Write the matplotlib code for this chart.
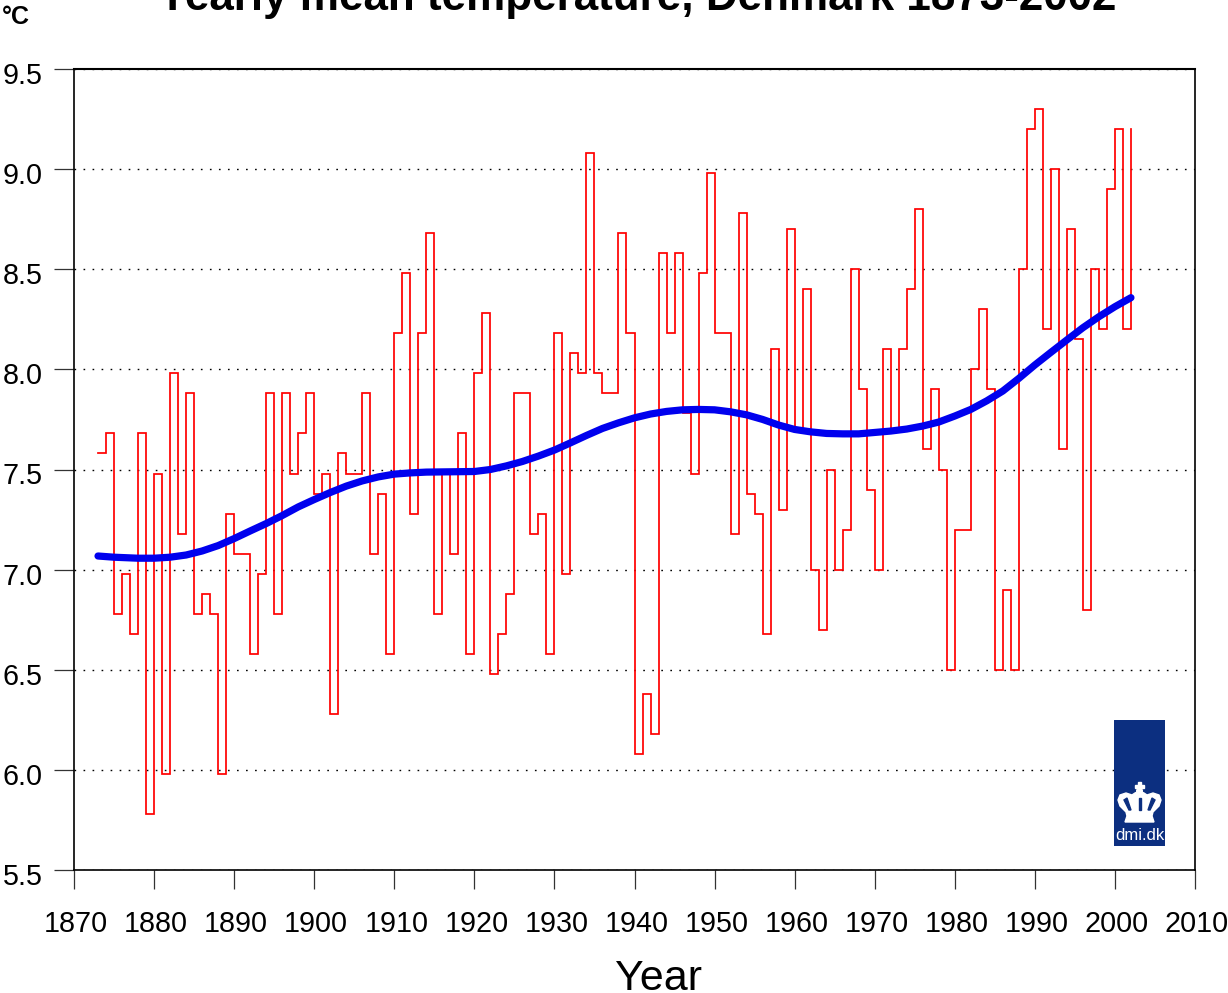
import matplotlib
matplotlib.use("Agg")
import matplotlib.pyplot as plt
from matplotlib.patches import Rectangle, Polygon, Circle
from matplotlib.transforms import ScaledTranslation

plt.rcParams['font.family'] = ['Liberation Sans', 'DejaVu Sans']

# yearly values, each one holds until the next year
first_year = 1873
temps = [7.58, 7.68, 6.78, 6.98, 6.68, 7.68, 5.78, 7.48, 5.98, 7.98, 7.18, 7.88, 6.78, 6.88, 6.78, 5.98, 7.28,
         7.08, 7.08, 6.58, 6.98, 7.88, 6.78, 7.88, 7.48, 7.68, 7.88, 7.38, 7.48, 6.28, 7.58, 7.48, 7.48, 7.88,
         7.08, 7.38, 6.58, 8.18, 8.48, 7.28, 8.18, 8.68, 6.78, 7.48, 7.08, 7.68, 6.58, 7.98, 8.28, 6.48, 6.68,
         6.88, 7.88, 7.88, 7.18, 7.28, 6.58, 8.18, 6.98, 8.08, 7.98, 9.08, 7.98, 7.88, 7.88, 8.68, 8.18, 6.08,
         6.38, 6.18, 8.58, 8.18, 8.58, 7.78, 7.48, 8.48, 8.98, 8.18, 8.18, 7.18, 8.78, 7.38, 7.28, 6.68, 8.10,
         7.30, 8.70, 7.70, 8.40, 7.00, 6.70, 7.50, 7.00, 7.20, 8.50, 7.90, 7.40, 7.00, 8.10, 7.70, 8.10, 8.40,
         8.80, 7.60, 7.90, 7.50, 6.50, 7.20, 7.20, 8.00, 8.30, 7.90, 6.50, 6.90, 6.50, 8.50, 9.20, 9.30, 8.20,
         9.00, 7.60, 8.70, 8.15, 6.80, 8.50, 8.20, 8.90, 9.20, 8.20, 9.20]
years = [first_year + i for i in range(len(temps))]

smooth_years = [1873, 1875, 1878, 1880, 1882, 1884, 1886, 1888, 1890, 1892, 1894, 1896, 1898, 1900, 1902, 1904,
                1906, 1908, 1910, 1912, 1914, 1916, 1920, 1922, 1924, 1926, 1928, 1930, 1932, 1934, 1936, 1938,
                1940, 1942, 1944, 1946, 1948, 1950, 1952, 1954, 1956, 1958, 1960, 1962, 1964, 1966, 1968, 1970,
                1972, 1974, 1976, 1978, 1980, 1982, 1984, 1986, 1988, 1990, 1992, 1994, 1996, 1998, 2000, 2002]
smooth_temps = [7.068, 7.062, 7.057, 7.057, 7.062, 7.073, 7.093, 7.120, 7.155, 7.193, 7.230, 7.270, 7.313, 7.350,
                7.385, 7.417, 7.443, 7.463, 7.477, 7.483, 7.487, 7.488, 7.490, 7.500, 7.518, 7.540, 7.567, 7.597,
                7.633, 7.670, 7.705, 7.733, 7.758, 7.777, 7.790, 7.798, 7.800, 7.798, 7.788, 7.773, 7.750, 7.722,
                7.700, 7.688, 7.680, 7.678, 7.678, 7.685, 7.692, 7.702, 7.717, 7.737, 7.767, 7.800, 7.843, 7.892,
                7.955, 8.022, 8.085, 8.147, 8.208, 8.263, 8.313, 8.358]

W, H = 1228, 993
fig = plt.figure(figsize=(W / 100, H / 100), dpi=100)
ax = fig.add_axes([74 / W, 1 - 870 / H, (1195 - 74) / W, (870 - 69) / H])

ax.step(years, temps, where='post', color='red', lw=1.25, solid_joinstyle='miter', zorder=3)
ax.plot(smooth_years, smooth_temps, color='#0000ee', lw=5.2, solid_capstyle='round', zorder=4)

ax.set_xlim(1870, 2010)
ax.set_ylim(5.5, 9.5)
ax.set_xticks(range(1870, 2011, 10))
ax.set_yticks([5.5, 6.0, 6.5, 7.0, 7.5, 8.0, 8.5, 9.0, 9.5])
ax.set_yticklabels(['5.5', '6.0', '6.5', '7.0', '7.5', '8.0', '8.5', '9.0', '9.5'])
ax.tick_params(axis='y', length=14.5, width=0.9, labelsize=20.7, pad=8, color='#333333')
ax.tick_params(axis='x', length=13.7, width=0.9, labelsize=20.7, pad=15, color='#333333')
ax.grid(axis='y', color='black', lw=1, linestyle=(0, (1.2, 5.3)))
ax.set_axisbelow(True)
for s in ax.spines.values():
    s.set_linewidth(1.2)
ax.spines['top'].set_linewidth(1.5)

# labels in the original sit a little off their ticks
for lbl in ax.get_xticklabels():
    lbl.set_transform(lbl.get_transform() + ScaledTranslation(0.02, 0, fig.dpi_scale_trans))
for lbl in ax.get_yticklabels():
    lbl.set_transform(lbl.get_transform() + ScaledTranslation(0, -0.04, fig.dpi_scale_trans))

fig.text(637 / W, 1 - 10 / H, 'Yearly mean temperature, Denmark 1873-2002', ha='center', va='baseline',
         fontsize=31.7, fontweight='bold')
fig.text(2 / W, 1 - 24 / H, '°C', ha='left', va='baseline', fontsize=18, fontweight='bold')
fig.text(658 / W, 1 - 990 / H, 'Year', ha='center', va='baseline', fontsize=31)

# dmi logo, drawn in its own pixel box
logo = fig.add_axes([1114 / W, 1 - 846 / H, 51 / W, 126 / H], zorder=5)
logo.set_xlim(0, 51)
logo.set_ylim(126, 0)
logo.axis('off')
logo.add_patch(Rectangle((0, 0), 51, 126, color='#0c2f80'))
crown = [(12, 92), (6, 86), (4, 80), (6, 75), (12, 73), (18, 75), (21, 73), (25.5, 71), (30, 73), (33, 75),
         (39, 73), (45, 75), (47, 80), (45, 86), (39, 92), (38, 96), (40, 102), (11, 102), (13, 96)]
logo.add_patch(Polygon(crown, color='white'))
for hole in [[(10, 80), (13, 78), (17, 90), (15, 90)], [(24.5, 78), (26.5, 78), (26.5, 90), (24.5, 90)],
             [(38, 78), (41, 80), (36, 90), (34, 90)]]:
    logo.add_patch(Polygon(hole, color='#0c2f80'))
logo.add_patch(Rectangle((24, 62), 3, 10, color='white'))
logo.add_patch(Rectangle((21, 64.5), 9, 3, color='white'))
logo.add_patch(Circle((25.5, 71), 2.8, color='white'))
logo.text(25.5, 120, 'dmi.dk', color='white', ha='center', va='baseline', fontsize=12)

fig.savefig('out.png', dpi=100)
